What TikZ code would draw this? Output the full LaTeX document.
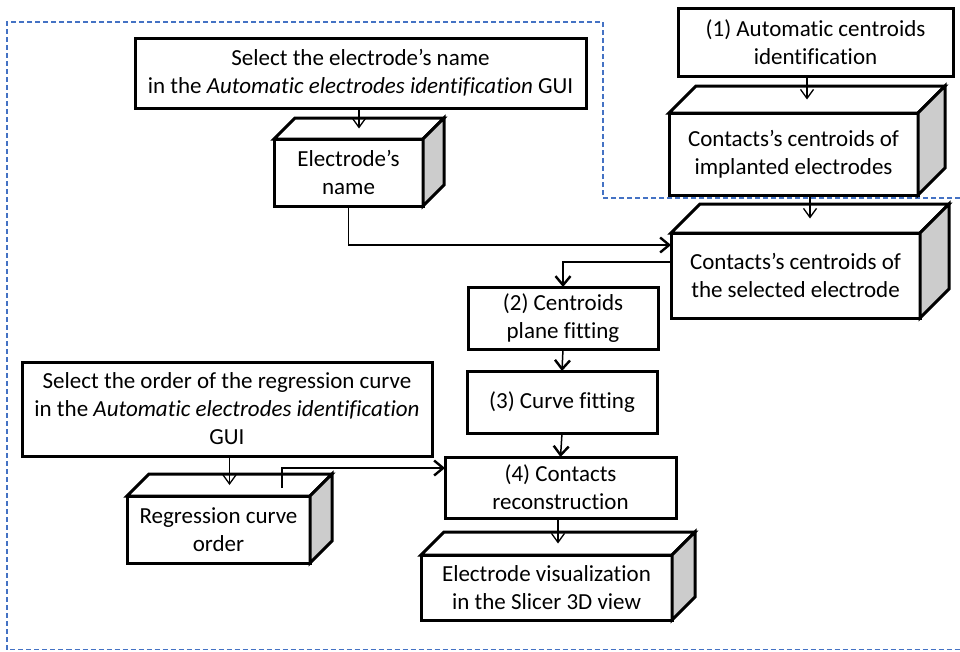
\documentclass[tikz,border=0pt]{standalone}
\usepackage{fontspec}
\setmainfont[Ligatures=NoCommon]{Carlito}
\usetikzlibrary{arrows.meta,calc}
\definecolor{dashblue}{RGB}{68,114,196}
\definecolor{sidegray}{RGB}{204,204,204}
\tikzset{
  plainbox/.style={draw, line width=3pt, fill=white, inner sep=0pt, outer sep=0pt,
    align=center, font=\fontsize{23}{28}\selectfont},
  cubeline/.style={draw, line width=3pt, line join=miter},
  flow/.style={line width=1.5pt, -{Straight Barb[length=9pt,width=15pt,line width=2.4pt]}},
  intop/.style={line width=1.2pt, -{Straight Barb[length=9pt,width=13pt,line width=1.3pt]}},
}
% top and right faces of a box drawn as a block: #1 node, #2 depth
\newcommand\drawcube[2]{%
  \draw[cubeline, fill=white] (#1.north west) -- ++(#2,-#2) -- ([shift={(#2,-#2)}]#1.north east) -- (#1.north east) -- cycle;
  \draw[cubeline, fill=sidegray] (#1.north east) -- ++(#2,-#2) -- ([shift={(#2,-#2)}]#1.south east) -- (#1.south east) -- cycle;
  \coordinate (#1-top) at ($(#1.north)+(0.5*#2,-0.5*#2)$);
}
\begin{document}
\begin{tikzpicture}[x=1pt,y=-1pt]
  \useasboundingbox (0,0) rectangle (960,651);
  % dashed frame
  \draw[dashblue, line width=1.3pt, dash pattern=on 5pt off 3pt]
    (960,198) -- (603,198) -- (603,22) -- (7,22) -- (7,649.5) -- (960,649.5);

  % plain boxes
  \node[plainbox, minimum width=451pt, minimum height=70pt] (selname) at (360.5,73)
    {Select the electrode’s name\\in the \textit{Automatic electrodes identification} GUI};
  \node[plainbox, minimum width=275pt, minimum height=68pt] (auto1) at (815.5,42)
    {(1) Automatic centroids\\identification};
  \node[plainbox, minimum width=190pt, minimum height=62pt] (plane) at (563,318)
    {(2) Centroids\\plane fitting};
  \node[plainbox, minimum width=190pt, minimum height=62pt] (curve) at (562,402)
    {(3) Curve fitting};
  \node[plainbox, minimum width=231pt, minimum height=61pt] (recon) at (560.5,487.5)
    {(4) Contacts\\reconstruction};
  \node[plainbox, minimum width=410pt, minimum height=94pt] (selorder) at (227,409)
    {Select the order of the regression curve\\in the \textit{Automatic electrodes identification}\\GUI};

  % block boxes
  \node[plainbox, minimum width=149pt, minimum height=67pt] (elname) at (348.5,172.5)
    {Electrode’s\\name};
  \drawcube{elname}{21}
  \node[plainbox, minimum width=249pt, minimum height=82pt] (implanted) at (793.5,154)
    {Contacts’s centroids of\\implanted electrodes};
  \drawcube{implanted}{27}
  \node[plainbox, minimum width=249pt, minimum height=85pt] (selected) at (795.5,275.5)
    {Contacts’s centroids of\\the selected electrode};
  \drawcube{selected}{29}
  \node[plainbox, minimum width=183pt, minimum height=67pt] (order) at (218.5,529.5)
    {Regression curve\\order};
  \drawcube{order}{22}
  \node[plainbox, minimum width=251pt, minimum height=65pt] (visual) at (546.5,587.5)
    {Electrode visualization\\in the Slicer 3D view};
  \drawcube{visual}{23}

  % connectors
  \coordinate (sel-in) at ($(selected.west)+(0,-30.5)$);
  \coordinate (sel-out) at ($(selected.west)+(0,-13.5)$);
  \coordinate (order-out) at ($(order.north)+(63.5,-8)$);
  \coordinate (recon-in) at ($(recon.west)+(0,-19.5)$);

  \draw[intop] (selname.south -| elname-top) -- (elname-top);
  \draw[intop] (auto1.south -| implanted-top) -- (implanted-top);
  \draw[intop] (implanted.south -| selected-top) -- (selected-top);
  \draw[intop] (recon.south -| visual-top) -- (visual-top);
  \draw[intop] (selorder.south -| order-top) -- (order-top);

  \draw[flow] (elname.south) |- (sel-in);
  \draw[flow] (sel-out) -| (plane.north);
  \draw[flow] (plane.south) -- (curve.north);
  \draw[flow] (curve.south) -- (recon.north);
  \draw[flow] (order-out) |- (recon-in);
\end{tikzpicture}
\end{document}
